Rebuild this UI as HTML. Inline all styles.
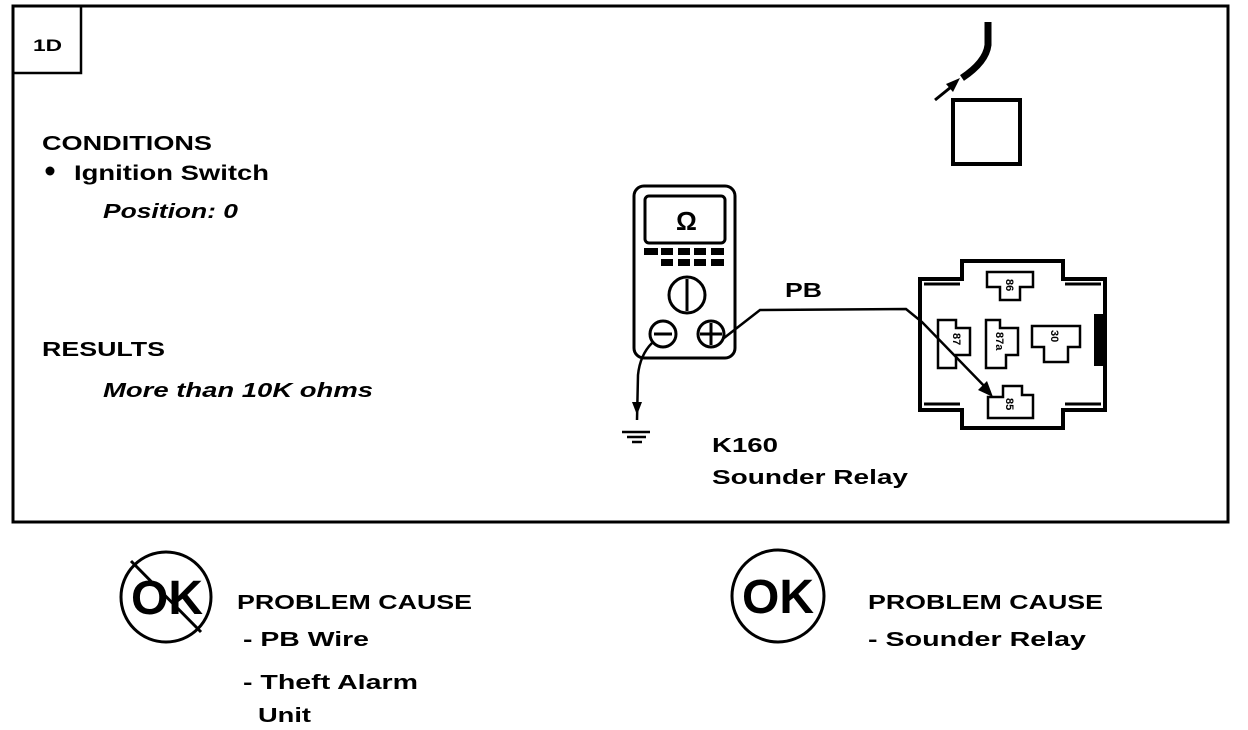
<!DOCTYPE html>
<html><head><style>
body{margin:0;background:#fff;}
svg{display:block;}
text{font-family:"Liberation Sans",sans-serif;font-weight:bold;fill:#000;}
</style></head><body>
<svg width="1248" height="730" viewBox="0 0 1248 730" xmlns="http://www.w3.org/2000/svg">
<rect x="13" y="6" width="1215" height="516" fill="none" stroke="#000" stroke-width="3"/>
<rect x="13" y="6" width="68" height="67" fill="none" stroke="#000" stroke-width="2.5"/>
<text x="33" y="51" font-size="17" textLength="29" lengthAdjust="spacingAndGlyphs">1D</text>
<text x="42" y="150" font-size="20" textLength="170" lengthAdjust="spacingAndGlyphs">CONDITIONS</text>
<circle cx="50" cy="171" r="4.5" fill="#000"/>
<text x="74" y="180" font-size="21" textLength="195" lengthAdjust="spacingAndGlyphs">Ignition Switch</text>
<text x="103" y="218" font-size="20" font-style="italic" font-weight="normal" textLength="135" lengthAdjust="spacingAndGlyphs">Position: 0</text>
<text x="42" y="356" font-size="20" textLength="123" lengthAdjust="spacingAndGlyphs">RESULTS</text>
<text x="103" y="397" font-size="20" font-style="italic" font-weight="normal" textLength="270" lengthAdjust="spacingAndGlyphs">More than 10K ohms</text>
<!-- top sensor -->
<path d="M988 22 L988 45 Q986 62 962 78" fill="none" stroke="#000" stroke-width="7"/>
<line x1="935" y1="100" x2="956" y2="83" stroke="#000" stroke-width="3"/>
<polygon points="960,78 946,84 953,92" fill="#000"/>
<rect x="953" y="100" width="67" height="64" fill="none" stroke="#000" stroke-width="4"/>
<!-- multimeter -->
<rect x="634" y="186" width="101" height="172" rx="10" fill="none" stroke="#000" stroke-width="3"/>
<rect x="645" y="196" width="80" height="47" rx="4" fill="none" stroke="#000" stroke-width="3"/>
<text x="676" y="230" font-size="26">Ω</text>
<g fill="#000">
<rect x="644" y="248" width="14" height="7"/><rect x="661" y="248" width="12" height="7"/><rect x="678" y="248" width="12" height="7"/><rect x="694" y="248" width="12" height="7"/><rect x="711" y="248" width="13" height="7"/>
<rect x="661" y="259" width="12" height="7"/><rect x="678" y="259" width="12" height="7"/><rect x="694" y="259" width="12" height="7"/><rect x="711" y="259" width="13" height="7"/>
</g>
<circle cx="687" cy="295" r="18" fill="none" stroke="#000" stroke-width="3"/>
<line x1="687" y1="279" x2="687" y2="311" stroke="#000" stroke-width="3"/>
<circle cx="663" cy="334" r="13" fill="none" stroke="#000" stroke-width="3"/>
<line x1="654" y1="334" x2="672" y2="334" stroke="#000" stroke-width="3"/>
<circle cx="711" cy="334" r="13" fill="none" stroke="#000" stroke-width="3"/>
<line x1="700" y1="334" x2="722" y2="334" stroke="#000" stroke-width="3"/>
<line x1="711" y1="323" x2="711" y2="345" stroke="#000" stroke-width="3"/>
<!-- ground lead -->
<path d="M652 343 Q640 355 638 375 L637 420" fill="none" stroke="#000" stroke-width="2.5"/>
<polygon points="632,402 642,402 637,415" fill="#000"/>
<line x1="622" y1="432" x2="650" y2="432" stroke="#000" stroke-width="2.5"/>
<line x1="627" y1="437" x2="646" y2="437" stroke="#000" stroke-width="2.5"/>
<line x1="632" y1="442" x2="642" y2="442" stroke="#000" stroke-width="2.5"/>
<!-- PB wire -->
<path d="M724 338 L760 310 L906 309 L922 322 L990 392" fill="none" stroke="#000" stroke-width="2.5"/>
<polygon points="993,397 978,390 987,381" fill="#000"/>
<text x="785" y="297" font-size="20" textLength="37" lengthAdjust="spacingAndGlyphs">PB</text>
<!-- relay -->
<path d="M962 261 L1063 261 L1063 279 L1105 279 L1105 410 L1063 410 L1063 428 L962 428 L962 410 L920 410 L920 279 L962 279 Z" fill="none" stroke="#000" stroke-width="4"/>
<line x1="924" y1="284" x2="960" y2="284" stroke="#000" stroke-width="3"/>
<line x1="1065" y1="284" x2="1101" y2="284" stroke="#000" stroke-width="3"/>
<line x1="924" y1="404" x2="960" y2="404" stroke="#000" stroke-width="3"/>
<line x1="1065" y1="404" x2="1101" y2="404" stroke="#000" stroke-width="3"/>
<rect x="1094" y="314" width="11" height="52" fill="#000"/>
<g fill="none" stroke="#000" stroke-width="2.5">
<path d="M987 272 L1033 272 L1033 287 L1020 287 L1020 300 L1000 300 L1000 287 L987 287 Z"/>
<path d="M938 320 L956 320 L956 328 L970 328 L970 355 L956 355 L956 368 L938 368 Z"/>
<path d="M986 320 L1000 320 L1000 328 L1018 328 L1018 355 L1006 355 L1006 368 L986 368 Z"/>
<path d="M1032 326 L1080 326 L1080 347 L1068 347 L1068 362 L1044 362 L1044 347 L1032 347 Z"/>
<path d="M1003 386 L1022 386 L1022 395 L1033 395 L1033 418 L988 418 L988 397 L1003 397 Z"/>
</g>
<g font-size="11">
<text x="1003" y="290" transform="rotate(90 1010 286)">86</text>
<text x="946" y="340" transform="rotate(90 953 340)">87</text>
<text x="988" y="340" transform="rotate(90 996 340)">87a</text>
<text x="1045" y="344" transform="rotate(90 1055 340)">30</text>
<text x="1002" y="410" transform="rotate(90 1010 406)">85</text>
</g>
<text x="712" y="452" font-size="20" textLength="66" lengthAdjust="spacingAndGlyphs">K160</text>
<text x="712" y="484" font-size="20" textLength="196" lengthAdjust="spacingAndGlyphs">Sounder Relay</text>
<!-- bottom left -->
<circle cx="166" cy="597" r="45" fill="none" stroke="#000" stroke-width="3"/>
<text x="131" y="614" font-size="48" textLength="72" lengthAdjust="spacingAndGlyphs">OK</text>
<line x1="131" y1="561" x2="201" y2="632" stroke="#000" stroke-width="3"/>
<text x="237" y="609" font-size="20" textLength="235" lengthAdjust="spacingAndGlyphs">PROBLEM CAUSE</text>
<text x="243" y="646" font-size="20" textLength="126" lengthAdjust="spacingAndGlyphs">- PB Wire</text>
<text x="243" y="689" font-size="20" textLength="175" lengthAdjust="spacingAndGlyphs">- Theft Alarm</text>
<text x="258" y="722" font-size="20" textLength="53" lengthAdjust="spacingAndGlyphs">Unit</text>
<!-- bottom right -->
<circle cx="778" cy="596" r="46" fill="none" stroke="#000" stroke-width="3"/>
<text x="742" y="613" font-size="48" textLength="72" lengthAdjust="spacingAndGlyphs">OK</text>
<text x="868" y="609" font-size="20" textLength="235" lengthAdjust="spacingAndGlyphs">PROBLEM CAUSE</text>
<text x="868" y="646" font-size="20" textLength="218" lengthAdjust="spacingAndGlyphs">- Sounder Relay</text>
</svg>
</body></html>
